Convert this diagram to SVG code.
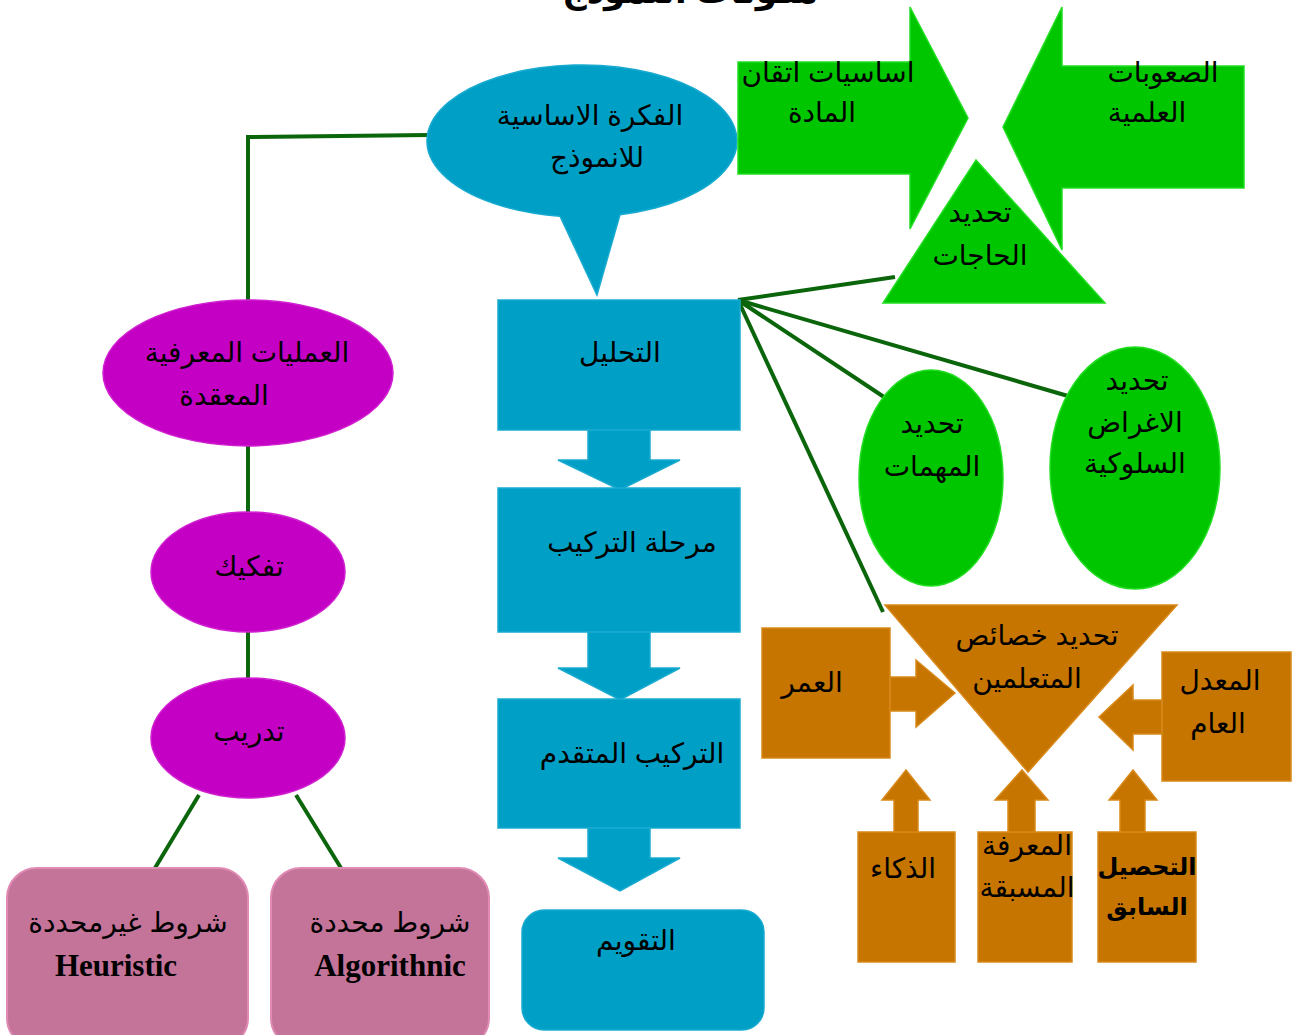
<svg xmlns="http://www.w3.org/2000/svg" width="1292" height="1035" viewBox="0 0 1292 1035">
<style>
text{font-family:"Liberation Sans","DejaVu Sans",sans-serif;font-size:28px;fill:#000;text-anchor:middle;direction:rtl}
.lat{font-family:"Liberation Serif","DejaVu Serif",serif;font-weight:bold;direction:ltr;font-size:31px}
.b{font-weight:bold}
.sm{font-size:24px}
.title{font-weight:bold;font-size:34px}
.blue{fill:#00A0C6;stroke:#1aaad0;stroke-width:1.5}
.green{fill:#00C600;stroke:#22dd22;stroke-width:1.5}
.purple{fill:#C400C4;stroke:#d020d0;stroke-width:1.5}
.pink{fill:#C47399;stroke:#e08ab4;stroke-width:2}
.orange{fill:#C57500;stroke:#d8891a;stroke-width:1.5}
.conn line,.conn polyline{stroke:#0b650b;stroke-width:4;fill:none}
</style>
<text class="title" x="690" y="3">مكونات النموذج</text>
<g class="conn" id="connectors">
<polyline points="428,135 248,137 248,300"/>
<line x1="248" y1="446" x2="248" y2="512"/>
<line x1="248" y1="632" x2="248" y2="678"/>
<line x1="199" y1="795" x2="155" y2="868"/>
<line x1="296" y1="795" x2="341" y2="868"/>
<line x1="738" y1="300" x2="895" y2="277"/>
<line x1="738" y1="300" x2="1068" y2="396"/>
<line x1="738" y1="300" x2="884" y2="397"/>
<line x1="738" y1="300" x2="883" y2="612"/>
</g>
<g id="idea">
<path class="blue" d="M560,216.23 L597,295 L620,214.68 A155,76 0 1 0 560,216.23 Z"/>
<text x="590" y="125">الفكرة الاساسية</text>
<text x="597" y="167">للانموذج</text>
</g>
<g id="mastery">
<path class="green" d="M738,62 H910 V7 L968,118 L910,229 V174 H738 Z"/>
<text x="828" y="82">اساسيات اتقان</text>
<text x="822" y="122">المادة</text>
</g>
<g id="difficulties">
<path class="green" d="M1244,66 H1062 V7 L1003,127 L1062,250 V188 H1244 Z"/>
<text x="1163" y="82">الصعوبات</text>
<text x="1147" y="122">العلمية</text>
</g>
<g id="needs">
<path class="green" d="M976,160 L1105,303 L883,303 Z"/>
<text x="980" y="222">تحديد</text>
<text x="980" y="265">الحاجات</text>
</g>
<g id="analysis">
<rect class="blue" x="498" y="300" width="242" height="130"/>
<path class="blue" d="M588,430 H650 V460 H680 L620,490 L558,460 H588 Z"/>
<text x="620" y="362">التحليل</text>
</g>
<g id="synthesis">
<rect class="blue" x="498" y="488" width="242" height="144"/>
<path class="blue" d="M588,632 H650 V668 H680 L620,700 L558,668 H588 Z"/>
<text x="632" y="552">مرحلة التركيب</text>
</g>
<g id="advanced">
<rect class="blue" x="498" y="699" width="242" height="129"/>
<path class="blue" d="M588,828 H650 V858 H680 L620,891 L558,858 H588 Z"/>
<text x="632" y="763">التركيب المتقدم</text>
</g>
<g id="evaluation">
<rect class="blue" x="522" y="910" width="242" height="120" rx="22"/>
<text x="636" y="950">التقويم</text>
</g>
<g id="cognitive">
<ellipse class="purple" cx="248" cy="373" rx="145" ry="73"/>
<text x="247" y="362">العمليات المعرفية</text>
<text x="224" y="405">المعقدة</text>
</g>
<g id="decompose">
<ellipse class="purple" cx="248" cy="572" rx="97" ry="60"/>
<text x="249" y="576">تفكيك</text>
</g>
<g id="training">
<ellipse class="purple" cx="248" cy="738" rx="97" ry="60"/>
<text x="249" y="741">تدريب</text>
</g>
<g id="heuristic">
<rect class="pink" x="7" y="868" width="241" height="180" rx="30"/>
<text x="128" y="932">شروط غيرمحددة</text>
<text class="lat" x="116" y="976">Heuristic</text>
</g>
<g id="algorithmic">
<rect class="pink" x="271" y="868" width="218" height="180" rx="30"/>
<text x="390" y="932">شروط محددة</text>
<text class="lat" x="390" y="976">Algorithnic</text>
</g>
<g id="tasks">
<ellipse class="green" cx="931" cy="478" rx="72" ry="108"/>
<text x="932" y="433">تحديد</text>
<text x="932" y="476">المهمات</text>
</g>
<g id="objectives">
<ellipse class="green" cx="1135" cy="468" rx="85" ry="121"/>
<text x="1137" y="390">تحديد</text>
<text x="1135" y="432">الاغراض</text>
<text x="1135" y="473">السلوكية</text>
</g>
<g id="learners">
<path class="orange" d="M885,605 H1177 L1028,772 Z"/>
<text x="1037" y="645">تحديد خصائص</text>
<text x="1027" y="688">المتعلمين</text>
</g>
<g id="age">
<rect class="orange" x="762" y="628" width="128" height="130"/>
<path class="orange" d="M890,677 H916 V660 L955,693 L916,727 V711 H890 Z"/>
<text x="812" y="692">العمر</text>
</g>
<g id="gpa">
<rect class="orange" x="1162" y="652" width="129" height="129"/>
<path class="orange" d="M1162,700 H1133 V685 L1099,717 L1133,750 V734 H1162 Z"/>
<text x="1220" y="690">المعدل</text>
<text x="1218" y="733">العام</text>
</g>
<g id="intelligence">
<rect class="orange" x="858" y="832" width="97" height="130"/>
<path class="orange" d="M894,832 V800 H882 L906,770 L930,800 H918 V832 Z"/>
<text x="903" y="878">الذكاء</text>
</g>
<g id="prior-knowledge">
<rect class="orange" x="978" y="832" width="94" height="130"/>
<path class="orange" d="M1008,832 V800 H995 L1022,770 L1048,800 H1035 V832 Z"/>
<text x="1027" y="855">المعرفة</text>
<text x="1027" y="897">المسبقة</text>
</g>
<g id="prior-achievement">
<rect class="orange" x="1098" y="832" width="98" height="130"/>
<path class="orange" d="M1120,832 V800 H1109 L1133,770 L1157,800 H1145 V832 Z"/>
<text class="b sm" x="1147" y="875">التحصيل</text>
<text class="b sm" x="1147" y="915">السابق</text>
</g>
</svg>
